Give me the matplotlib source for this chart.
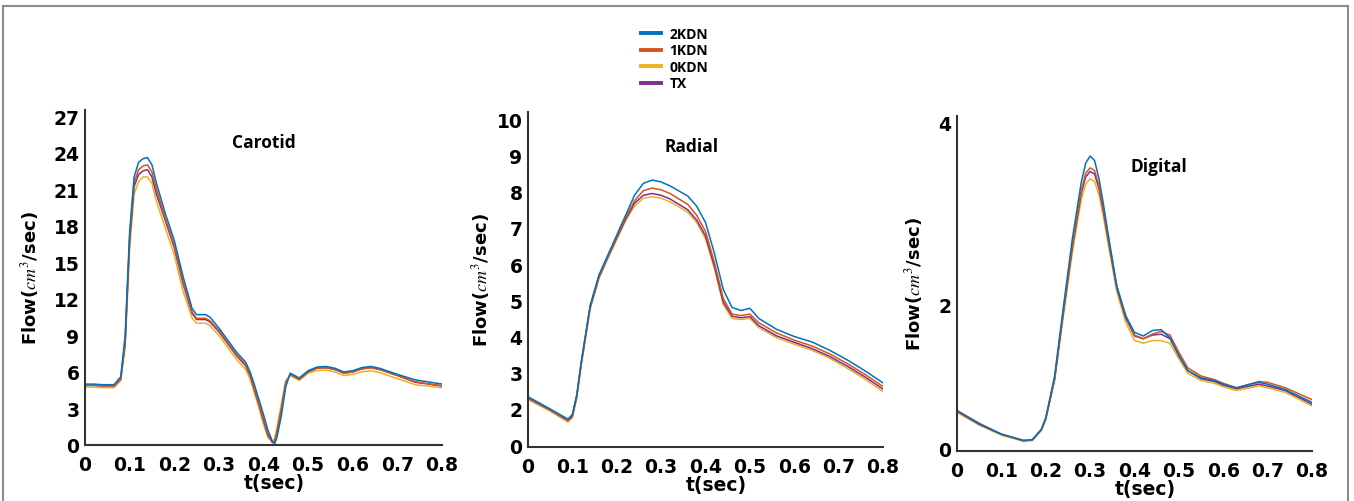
import matplotlib
matplotlib.use("Agg")
import matplotlib.pyplot as plt
from matplotlib.lines import Line2D

plt.rcParams['mathtext.fontset'] = 'stix'

# series names and colours
names = ['2KDN', '1KDN', '0KDN', 'TX']
colors = ['#0072BD', '#D95319', '#EDB120', '#7E2F8E']

# Carotid
t_car = [0, 0.02, 0.04, 0.065, 0.08, 0.09, 0.1, 0.11, 0.12, 0.13, 0.14, 0.15, 0.16, 0.18,
         0.2, 0.22, 0.24, 0.25, 0.27, 0.28, 0.3, 0.32, 0.34, 0.36, 0.37, 0.38, 0.39, 0.4,
         0.41, 0.42, 0.425, 0.43, 0.44, 0.45, 0.46, 0.47, 0.48, 0.5, 0.52, 0.54, 0.56, 0.58,
         0.6, 0.62, 0.64, 0.66, 0.7, 0.74, 0.8]
car_2kdn = [5.0, 5.0, 4.95, 4.95, 5.6, 9.0, 17.5, 22.0, 23.2, 23.5, 23.6, 23.0, 21.5, 19.0,
            16.8, 13.8, 11.2, 10.7, 10.7, 10.5, 9.6, 8.6, 7.6, 6.8, 6.0, 4.9, 3.7, 2.5,
            1.2, 0.3, 0.1, 0.6, 2.4, 4.8, 5.9, 5.7, 5.5, 6.1, 6.4, 6.45, 6.3, 6.0,
            6.1, 6.35, 6.45, 6.3, 5.8, 5.35, 5.0]
car_1kdn = [4.9, 4.9, 4.85, 4.85, 5.4, 8.5, 17.0, 21.5, 22.6, 22.9, 23.0, 22.4, 21.0, 18.6,
            16.4, 13.4, 10.9, 10.4, 10.4, 10.2, 9.4, 8.4, 7.4, 6.6, 5.8, 4.6, 3.4, 2.1,
            0.9, 0.2, 0.3, 1.0, 2.9, 5.1, 5.8, 5.6, 5.4, 6.0, 6.3, 6.35, 6.2, 5.9,
            6.0, 6.25, 6.35, 6.2, 5.7, 5.2, 4.85]
car_0kdn = [4.75, 4.75, 4.7, 4.7, 5.3, 8.0, 16.0, 20.6, 21.6, 22.0, 22.0, 21.5, 20.0, 17.8,
            15.6, 12.6, 10.4, 10.0, 10.0, 9.8, 9.0, 8.0, 7.0, 6.2, 5.4, 4.2, 3.0, 1.7,
            0.6, 0.3, 0.5, 1.4, 3.4, 5.3, 5.7, 5.5, 5.3, 5.9, 6.1, 6.15, 6.0, 5.7,
            5.8, 6.0, 6.1, 5.95, 5.45, 4.95, 4.7]
car_tx = [4.9, 4.9, 4.85, 4.85, 5.4, 8.4, 16.8, 21.2, 22.2, 22.5, 22.6, 22.0, 20.6, 18.4,
          16.2, 13.2, 10.8, 10.3, 10.3, 10.1, 9.3, 8.3, 7.3, 6.5, 5.7, 4.5, 3.3, 2.0,
          0.8, 0.2, 0.3, 1.0, 2.9, 5.1, 5.8, 5.6, 5.4, 6.0, 6.3, 6.35, 6.2, 5.9,
          6.0, 6.25, 6.35, 6.2, 5.7, 5.15, 4.85]

# Radial
t_rad = [0, 0.05, 0.09, 0.1, 0.11, 0.12, 0.14, 0.16, 0.18, 0.2, 0.22, 0.24, 0.26, 0.28,
         0.3, 0.32, 0.34, 0.36, 0.38, 0.4, 0.42, 0.44, 0.46, 0.48, 0.5, 0.52, 0.56, 0.6,
         0.64, 0.68, 0.72, 0.76, 0.8]
rad_2kdn = [2.34, 2.0, 1.72, 1.85, 2.4, 3.3, 4.85, 5.7, 6.25, 6.8, 7.35, 7.9, 8.23, 8.32,
            8.27, 8.16, 8.02, 7.88, 7.6, 7.15, 6.3, 5.3, 4.8, 4.72, 4.78, 4.5, 4.2, 4.0,
            3.85, 3.62, 3.35, 3.05, 2.72]
rad_1kdn = [2.32, 1.98, 1.7, 1.83, 2.38, 3.28, 4.83, 5.68, 6.22, 6.75, 7.28, 7.75, 8.03, 8.1,
            8.05, 7.95, 7.8, 7.65, 7.35, 6.9, 6.05, 5.05, 4.62, 4.58, 4.62, 4.38, 4.1, 3.9,
            3.74, 3.52, 3.25, 2.95, 2.62]
rad_0kdn = [2.26, 1.94, 1.64, 1.76, 2.3, 3.2, 4.75, 5.6, 6.15, 6.68, 7.2, 7.6, 7.82, 7.86,
            7.82, 7.72, 7.58, 7.43, 7.15, 6.7, 5.88, 4.88, 4.5, 4.47, 4.5, 4.25, 3.97, 3.79,
            3.62, 3.4, 3.12, 2.82, 2.48]
rad_tx = [2.3, 1.97, 1.68, 1.8, 2.35, 3.25, 4.8, 5.65, 6.2, 6.72, 7.24, 7.68, 7.9, 7.95,
          7.9, 7.8, 7.65, 7.5, 7.22, 6.78, 5.95, 4.95, 4.56, 4.52, 4.55, 4.3, 4.02, 3.84,
          3.67, 3.45, 3.18, 2.88, 2.55]

# Digital
t_dig = [0, 0.05, 0.1, 0.15, 0.17, 0.19, 0.2, 0.22, 0.24, 0.26, 0.28, 0.29, 0.3, 0.31, 0.32,
         0.33, 0.34, 0.36, 0.38, 0.4, 0.42, 0.44, 0.46, 0.48, 0.5, 0.52, 0.55, 0.58, 0.6, 0.63,
         0.66, 0.68, 0.7, 0.74, 0.8]
dig_2kdn = [0.83, 0.68, 0.57, 0.5, 0.51, 0.62, 0.75, 1.21, 1.98, 2.72, 3.34, 3.55, 3.63, 3.58, 3.38,
            3.1, 2.79, 2.2, 1.87, 1.69, 1.65, 1.71, 1.72, 1.63, 1.43, 1.27, 1.19, 1.16, 1.12, 1.08,
            1.12, 1.14, 1.12, 1.06, 0.92]
dig_1kdn = [0.82, 0.68, 0.57, 0.5, 0.51, 0.62, 0.74, 1.18, 1.93, 2.65, 3.25, 3.44, 3.5, 3.47, 3.3,
            3.05, 2.75, 2.2, 1.88, 1.66, 1.62, 1.67, 1.7, 1.66, 1.47, 1.3, 1.21, 1.17, 1.13, 1.08,
            1.12, 1.15, 1.14, 1.08, 0.95]
dig_0kdn = [0.81, 0.67, 0.56, 0.49, 0.5, 0.61, 0.73, 1.16, 1.88, 2.57, 3.15, 3.32, 3.38, 3.35, 3.2,
            2.96, 2.68, 2.14, 1.8, 1.6, 1.57, 1.6, 1.6, 1.57, 1.4, 1.24, 1.16, 1.13, 1.09, 1.05,
            1.08, 1.1, 1.08, 1.03, 0.88]
dig_tx = [0.83, 0.69, 0.57, 0.5, 0.51, 0.62, 0.74, 1.18, 1.92, 2.63, 3.22, 3.4, 3.46, 3.43, 3.27,
          3.02, 2.73, 2.18, 1.85, 1.65, 1.62, 1.66, 1.67, 1.62, 1.44, 1.27, 1.18, 1.15, 1.11, 1.07,
          1.1, 1.12, 1.1, 1.05, 0.9]

# y ticks as printed in the figure (the lowest label sits off the even spacing)
car_ticks = [0, 3, 6, 9, 12, 15, 18, 21, 24, 27]
car_labels = ['0', '3', '6', '9', '12', '15', '18', '21', '24', '27']
rad_ticks = [1, 2, 3, 4, 5, 6, 7, 8, 9, 10]
rad_labels = ['0', '2', '3', '4', '5', '6', '7', '8', '9', '10']
dig_ticks = [0.41, 2, 4]
dig_labels = ['0', '2', '4']
x_ticks = [0, 0.1, 0.2, 0.3, 0.4, 0.5, 0.6, 0.7, 0.8]
x_labels = ['0', '0.1', '0.2', '0.3', '0.4', '0.5', '0.6', '0.7', '0.8']

W, H = 1354, 502
fig = plt.figure(figsize=(W / 100, H / 100), dpi=100)

def px_axes(left, right, top, bottom):
    return fig.add_axes([left / W, 1 - bottom / H, (right - left) / W, (bottom - top) / H])

panels = [
    (px_axes(85, 442, 111, 446), t_car, [car_2kdn, car_1kdn, car_0kdn, car_tx],
     (0, 27.5), car_ticks, car_labels, 'Carotid', (0.50, 0.905), 41),
    (px_axes(528, 883, 113, 448), t_rad, [rad_2kdn, rad_1kdn, rad_0kdn, rad_tx],
     (0.95, 10.2), rad_ticks, rad_labels, 'Radial', (0.46, 0.90), 492),
    (px_axes(957, 1312, 117, 452), t_dig, [dig_2kdn, dig_1kdn, dig_0kdn, dig_tx],
     (0.385, 4.07), dig_ticks, dig_labels, 'Digital', (0.57, 0.85), 925),
]

tick_font = dict(family='DejaVu Sans', weight='bold', size=13.5)

for ax, t, series, ylim, yt, yl, title, tpos, ylab_x in panels:
    # draw 0KDN first so the others sit on top like in the figure
    for i in [2, 3, 1, 0]:
        ax.plot(t, series[i], color=colors[i], lw=1.1, label=names[i])
    ax.set_xlim(0, 0.8)
    ax.set_ylim(*ylim)
    ax.set_xticks(x_ticks)
    ax.set_xticklabels(x_labels, fontdict=tick_font)
    ax.set_yticks(yt)
    ax.set_yticklabels(yl, fontdict=tick_font)
    ax.tick_params(axis='x', length=0, pad=7)
    ax.tick_params(axis='y', length=0, pad=4)
    for s in ['top', 'right']:
        ax.spines[s].set_visible(False)
    for s in ['left', 'bottom']:
        ax.spines[s].set_color('#333333')
        ax.spines[s].set_linewidth(1.5)
    ax.text(tpos[0], tpos[1], title, transform=ax.transAxes, ha='center', va='center',
            family='Open Sans', weight='bold', size=12.5)
    ax.set_xlabel('t(sec)', family='DejaVu Sans', weight='bold', size=13.5)
    ax.xaxis.set_label_coords(0.53, -0.085)
    ax.set_ylabel(r'Flow($\mathit{cm}^3$/sec)', family='DejaVu Sans', weight='bold', size=13)
    ax.yaxis.set_label_coords((ylab_x - ax.get_position().x0 * W) / (ax.get_position().width * W), 0.5)

# legend at the top centre
handles = [Line2D([], [], color=c, lw=2.8) for c in colors]
fig.legend(handles, names, loc='upper left', bbox_to_anchor=(634 / W, 1 - 21 / H),
           frameon=False, borderpad=0, handlelength=1.45, handletextpad=0.6,
           labelspacing=0.18, prop=dict(family='Open Sans', weight='bold', size=10))

# grey frame around the figure (no bottom edge)
frame_kw = dict(color='#8c8c8c', lw=1.5, transform=fig.transFigure)
fig.add_artist(Line2D([3 / W, 3 / W], [0, 1 - 7 / H], **frame_kw))
fig.add_artist(Line2D([3 / W, 1348 / W], [1 - 7 / H, 1 - 7 / H], **frame_kw))
fig.add_artist(Line2D([1348 / W, 1348 / W], [0, 1 - 7 / H], **frame_kw))

fig.savefig('out.png', dpi=100)
